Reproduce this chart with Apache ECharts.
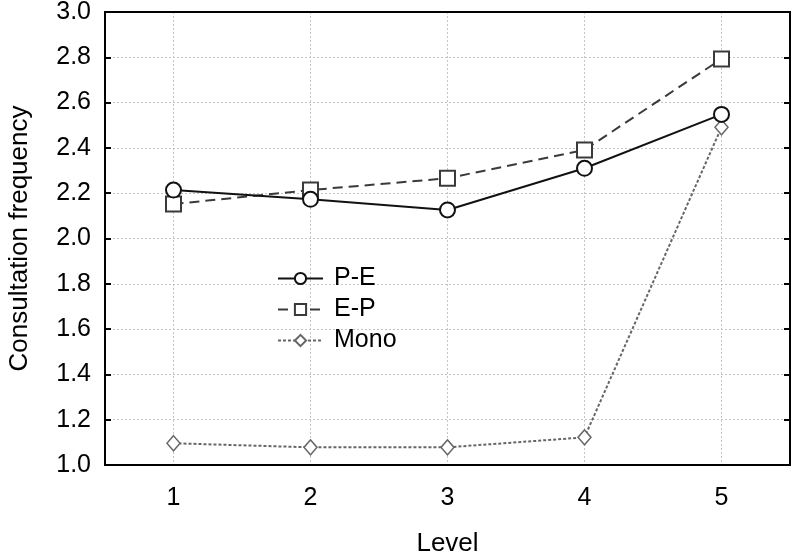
<!DOCTYPE html>
<html>
<head>
<meta charset="utf-8">
<script src="https://cdn.jsdelivr.net/npm/echarts@6/dist/echarts.min.js"></script>
<style>
  html, body { margin: 0; padding: 0; background: #fff; }
  #chart { width: 794px; height: 560px; }
</style>
</head>
<body>
<div id="chart"></div>
<script>
// Consultation frequency by level for three groups
const levels = ['1', '2', '3', '4', '5'];
const peValues = [2.214, 2.173, 2.126, 2.310, 2.548];
const epValues = [2.152, 2.214, 2.266, 2.391, 2.793];
const monoValues = [1.096, 1.078, 1.078, 1.122, 2.491];

const FONT = 'Liberation Sans, Arial, sans-serif';
const gridDots = { show: true, lineStyle: { color: '#c4c4c4', type: [2, 2], width: 1 } };

const chart = echarts.init(document.getElementById('chart'), null, { renderer: 'canvas' });

chart.setOption({
  animation: false,
  backgroundColor: '#ffffff',
  grid: {
    left: 105, right: 4, top: 12, bottom: 95,
    outerBoundsMode: 'none',
    show: true, borderColor: '#000', borderWidth: 2, backgroundColor: 'transparent'
  },
  legend: {
    orient: 'vertical',
    left: 272, top: 261,
    itemWidth: 45, itemHeight: 14, itemGap: 6,
    textStyle: { fontFamily: FONT, fontSize: 25, color: '#000', padding: [0, 0, 0, 6] },
    data: ['P-E', 'E-P', 'Mono']
  },
  xAxis: [{
    type: 'category',
    data: levels,
    boundaryGap: true,
    name: 'Level',
    nameLocation: 'middle',
    nameGap: 66,
    nameTextStyle: { fontFamily: FONT, fontSize: 26, color: '#000' },
    axisLine: { lineStyle: { color: '#000', width: 2 } },
    axisTick: { alignWithLabel: true, inside: true, length: 6, lineStyle: { color: '#000', width: 2 } },
    axisLabel: { fontFamily: FONT, fontSize: 25, color: '#000', margin: 21 },
    splitLine: Object.assign({ alignWithLabel: true }, gridDots)
  }, {
    type: 'category',
    data: levels,
    boundaryGap: true,
    position: 'top',
    axisLine: { lineStyle: { color: '#000', width: 2 } },
    axisTick: { alignWithLabel: true, inside: true, length: 6, lineStyle: { color: '#000', width: 2 } },
    axisLabel: { show: false },
    splitLine: { show: false }
  }],
  yAxis: [{
    type: 'value',
    min: 1.0, max: 3.0, interval: 0.2,
    name: 'Consultation frequency',
    nameLocation: 'middle',
    nameGap: 72,
    nameTextStyle: { fontFamily: FONT, fontSize: 26, color: '#000' },
    axisLine: { show: true, lineStyle: { color: '#000', width: 2 } },
    axisTick: { show: true, inside: true, length: 6, lineStyle: { color: '#000', width: 2 } },
    axisLabel: { fontFamily: FONT, fontSize: 25, color: '#000', margin: 14,
      formatter: v => v.toFixed(1) },
    splitLine: gridDots
  }, {
    type: 'value',
    min: 1.0, max: 3.0, interval: 0.2,
    position: 'right',
    axisLine: { show: true, lineStyle: { color: '#000', width: 2 } },
    axisTick: { show: true, inside: true, length: 6, lineStyle: { color: '#000', width: 2 } },
    axisLabel: { show: false },
    splitLine: { show: false }
  }],
  series: [{
    name: 'P-E',
    type: 'line',
    data: peValues,
    symbol: 'circle',
    symbolSize: 15,
    z: 4,
    lineStyle: { color: '#111', width: 2, type: 'solid' },
    itemStyle: { color: '#fff', borderColor: '#111', borderWidth: 2 }
  }, {
    name: 'E-P',
    type: 'line',
    data: epValues,
    symbol: 'rect',
    symbolSize: 15,
    z: 3,
    lineStyle: { color: '#3a3a3a', width: 2, type: [10, 6] },
    itemStyle: { color: '#fff', borderColor: '#3a3a3a', borderWidth: 2 }
  }, {
    name: 'Mono',
    type: 'line',
    data: monoValues,
    symbol: 'diamond',
    symbolSize: [13, 15],
    z: 2,
    lineStyle: { color: '#666', width: 2, type: [3, 2] },
    itemStyle: { color: '#fff', borderColor: '#666', borderWidth: 1.5 }
  }]
});
</script>
</body>
</html>
